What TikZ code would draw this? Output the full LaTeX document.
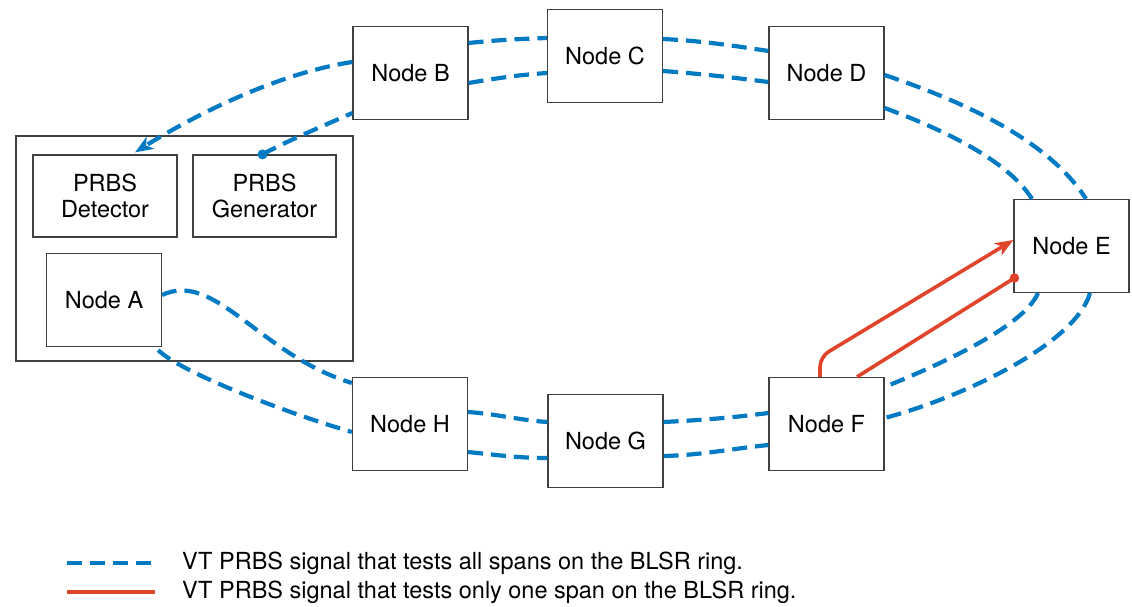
\documentclass[tikz,border=0pt]{standalone}
\usepackage{fontspec}
\setmainfont{TeX Gyre Heros}
\usetikzlibrary{arrows.meta,calc}
\definecolor{ringblue}{RGB}{0,122,195}
\definecolor{spanred}{RGB}{224,68,42}
\begin{document}
\begin{tikzpicture}[x=1pt,y=-1pt,
  lbl/.style={font=\fontsize{23.5}{26}\selectfont},
  box/.style={draw=black!75,line width=1.2pt,minimum width=115pt,minimum height=93pt,inner sep=0pt,lbl},
  subbox/.style={draw=black!75,line width=1.2pt,minimum width=144pt,minimum height=82pt,inner sep=0pt,align=center,lbl},
  ring/.style={draw=ringblue,line width=4.2pt,dash pattern=on 15pt off 8pt},
  span/.style={draw=spanred,line width=3.6pt},
  tip/.style={-{Stealth[length=18pt,width=14pt,inset=5pt]}}
]
\useasboundingbox (0,0) rectangle (1132,607);

% site enclosure
\node[draw=black!75,line width=1.2pt,minimum width=337pt,minimum height=225pt,inner sep=0pt] (site) at (184.5,248.5) {};
\node[subbox] (Det) at (105,196) {PRBS\\Detector};
\node[subbox,minimum width=143pt] (Gen) at (264.5,196) {PRBS\\Generator};

% ring nodes
\node[box] (A) at (104,300) {Node A};
\node[box] (B) at (410.5,73) {Node B};
\node[box] (C) at (605,56) {Node C};
\node[box] (D) at (826.5,73) {Node D};
\node[box] (E) at (1071.5,246) {Node E};
\node[box] (F) at (826.5,424) {Node F};
\node[box] (G) at (605.5,441) {Node G};
\node[box] (H) at (410,424) {Node H};

% outer ring (towards detector)
\draw[ring,tip] ($(B.west)+(0,-11)$) .. controls (272,74) and (185,121) .. ($(Det.north)+(30,-2)$);
\draw[ring] ($(B.east)+(0,-30)$) .. controls (498,40) and (518,39) .. ($(C.west)+(0,-18)$);
\draw[ring] ($(C.east)+(0,-17)$) .. controls (702,41) and (729,45) .. ($(D.west)+(0,-22)$);
\draw[ring] ($(D.east)+(0,2)$) .. controls (974,105) and (1051,144) .. ($(E.north)+(14.5,0)$);
\draw[ring] ($(E.south)+(18.5,0)$) .. controls (1075,345) and (960,398) .. ($(F.east)+(0,-6)$);
\draw[ring] ($(G.east)+(0,15)$) .. controls (703,455) and (729,449) .. ($(F.west)+(0,21)$);
\draw[ring] ($(H.east)+(0,28)$) .. controls (497,455) and (518,458) .. ($(G.west)+(0,17)$);
\draw[ring] ($(A.south east)+(-4,3)$) .. controls (183,374) and (293,415) .. ($(H.west)+(0,8)$);

% inner ring (from generator)
\coordinate (gs) at ($(Gen.north)+(-2,0)$);
\draw[ring] (gs) .. controls (287,141) and (323,126) .. ($(B.west)+(0,40)$);
\fill[ringblue] (gs) circle (5pt);
\draw[ring] ($(B.east)+(0,10)$) .. controls (498,78) and (518,75) .. ($(C.west)+(0,17)$);
\draw[ring] ($(C.east)+(0,15)$) .. controls (702,74) and (729,77) .. ($(D.west)+(0,9)$);
\draw[ring] ($(D.east)+(0,35)$) .. controls (939,128) and (1007,159) .. ($(E.north)+(-39.5,0)$);
\draw[ring] ($(E.south)+(-33.5,0)$) .. controls (1023,328) and (934,367) .. ($(F.east)+(0,-37)$);
\draw[ring] ($(G.east)+(0,-19)$) .. controls (703,420) and (729,418) .. ($(F.west)+(0,-11)$);
\draw[ring] ($(H.east)+(0,-12)$) .. controls (497,414) and (518,420) .. ($(G.west)+(0,-19)$);
\draw[ring] ($(A.east)+(0,-5)$) .. controls (215,270) and (260,355) .. ($(H.west)+(0,-41)$);

% single span test (red)
\draw[span,tip,rounded corners=10pt] ($(F.north)+(-6.5,0)$) -- ($(F.north)+(-6.5,-20)$) -- ($(E.west)+(0,-6)$);
\coordinate (re) at ($(E.west)+(1,32)$);
\draw[span] ($(F.north)+(30.5,0)$) -- (re);
\fill[spanred] (re) circle (4.8pt);

% legend
\coordinate (la1) at (67,563);
\coordinate (lb1) at (155,563);
\coordinate (la2) at (67,592);
\coordinate (lb2) at (155,592);
\draw[ring] (la1) -- (lb1);
\draw[span] (la2) -- (lb2);
\node[lbl,anchor=west,inner sep=0pt] (t1) at (182,563) {VT PRBS signal that tests all spans on the BLSR ring.};
\node[lbl,anchor=west,inner sep=0pt] (t2) at (182,592) {VT PRBS signal that tests only one span on the BLSR ring.};
\end{tikzpicture}
\end{document}
